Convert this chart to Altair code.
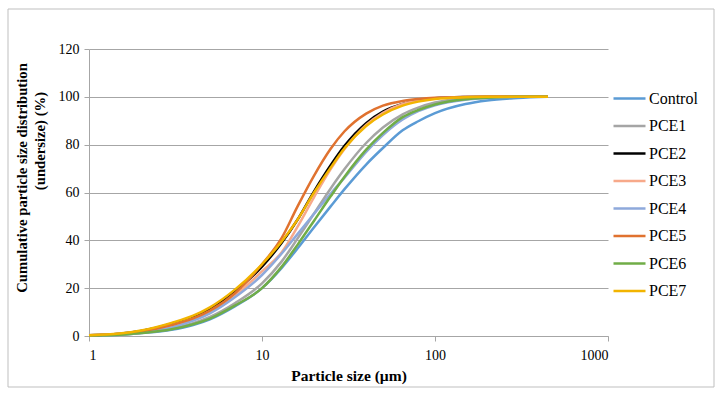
import altair as alt
import pandas as pd

# Particle sizes (µm) at which the cumulative curves are sampled
sizes = [1, 1.5, 2, 3, 4, 5, 7, 10, 13, 16, 20, 25, 30, 40, 50, 65, 80, 100, 150, 200, 300, 450]

# Cumulative undersize (%) per mix
control = [0.2, 0.5, 1.2, 2.6, 4.6, 7.0, 12.5, 20.0, 28.5, 36.5, 45.5, 54.3, 61.4, 71.7, 78.6, 86.0, 89.8, 93.2, 97.0, 98.5, 99.5, 100]
pce1 = [0.2, 0.6, 1.3, 3.1, 5.4, 8.0, 13.8, 22.0, 31.2, 40.6, 51.2, 61.8, 69.8, 80.7, 87.2, 92.7, 95.5, 97.6, 99.3, 99.7, 100, 100]
pce2 = [0.3, 0.9, 2.1, 5.1, 8.0, 11.3, 18.8, 29.0, 39.0, 48.5, 60.5, 71.5, 79.5, 89.0, 93.8, 97.0, 98.5, 99.4, 99.9, 100, 100, 100]
pce3 = [0.3, 0.9, 2.0, 4.5, 7.2, 10.0, 17.0, 27.0, 35.0, 45.5, 58.1, 69.9, 78.2, 88.2, 93.3, 97.0, 98.5, 99.4, 99.9, 100, 100, 100]
pce4 = [0.3, 0.8, 1.6, 3.6, 6.4, 9.5, 16.3, 25.5, 34.5, 42.5, 51.1, 59.6, 66.2, 77.0, 84.0, 90.5, 94.0, 96.5, 98.8, 99.5, 100, 100]
pce5 = [0.3, 0.8, 1.9, 4.6, 7.4, 10.6, 18.0, 30.0, 41.0, 54.0, 67.1, 78.4, 85.6, 93.0, 96.3, 98.3, 99.1, 99.6, 99.9, 100, 100, 100]
pce6 = [0.2, 0.5, 1.2, 2.8, 4.9, 7.3, 12.8, 20.0, 29.0, 38.0, 48.2, 58.5, 66.6, 77.9, 84.9, 91.5, 94.5, 96.8, 99.0, 99.6, 100, 100]
pce7 = [0.3, 1.0, 2.3, 5.5, 8.5, 12.0, 19.5, 30.0, 39.5, 48.5, 60.0, 70.5, 78.5, 87.8, 92.6, 96.3, 98.0, 99.1, 99.8, 100, 100, 100]

series = ["Control", "PCE1", "PCE2", "PCE3", "PCE4", "PCE5", "PCE6", "PCE7"]
colors = ["#5B9BD5", "#A5A5A5", "#000000", "#F7A98A", "#8EA9DB", "#E0722F", "#70AD47", "#F2B400"]
x_ticks = [1, 10, 100, 1000]
y_ticks = [0, 20, 40, 60, 80, 100, 120]

rows = []
for name, vals in zip(series, [control, pce1, pce2, pce3, pce4, pce5, pce6, pce7]):
    for s, v in zip(sizes, vals):
        rows.append({"size": s, "value": v, "series": name})
df = pd.DataFrame(rows)

FONT = "Times New Roman, Liberation Serif, serif"
GRID = "#A6A6A6"

lines = alt.Chart(df).mark_line(strokeWidth=2.5, interpolate="monotone").encode(
    x=alt.X(
        "size:Q",
        scale=alt.Scale(type="log", domain=[1, 1000]),
        axis=alt.Axis(
            values=x_ticks, format="d", grid=False, title="Particle size (µm)",
            tickSize=5, labelPadding=7, titlePadding=6, titleFontSize=15.5,
        ),
    ),
    y=alt.Y(
        "value:Q",
        scale=alt.Scale(domain=[0, 120]),
        axis=alt.Axis(values=y_ticks, grid=True, title=None, tickSize=5, labelPadding=5),
    ),
    color=alt.Color(
        "series:N",
        scale=alt.Scale(domain=series, range=colors),
        legend=alt.Legend(
            title=None, orient="none", legendX=523, legendY=32,
            symbolType="stroke", symbolSize=1024, symbolStrokeWidth=2.5,
            labelFont=FONT, labelFontSize=16, labelColor="black",
            labelOffset=2, rowPadding=1.5, padding=0,
        ),
    ),
    detail="series:N",
    order="size:Q",
)

# Outer frame around the whole figure
frame = alt.Chart(pd.DataFrame({"a": [0]})).mark_rect(
    fillOpacity=0, stroke="#BFBFBF", strokeWidth=1
).encode(x=alt.value(-81), x2=alt.value(625), y=alt.value(-40), y2=alt.value(338))

# Two-line vertical axis title
ytitle1 = alt.Chart(pd.DataFrame({"a": [0]})).mark_text(
    angle=270, font=FONT, fontSize=14.7, fontWeight="bold", color="black",
    align="center", baseline="middle",
).encode(x=alt.value(-66), y=alt.value(129), text=alt.value("Cumulative particle size distribution"))

ytitle2 = alt.Chart(pd.DataFrame({"a": [0]})).mark_text(
    angle=270, font=FONT, fontSize=14.7, fontWeight="bold", color="black",
    align="center", baseline="middle",
).encode(x=alt.value(-48), y=alt.value(92), text=alt.value("(undersize) (%)"))

chart = alt.layer(frame, lines, ytitle1, ytitle2).properties(
    width=519, height=287,
    autosize=alt.AutoSizeParams(type="none"),
    padding={"left": 89, "top": 49, "right": 116, "bottom": 59},
    background="white",
).configure(font=FONT).configure_view(stroke=None).configure_axis(
    labelFont=FONT, labelFontSize=14, labelColor="black",
    titleFont=FONT, titleFontSize=14, titleFontWeight="bold", titleColor="black",
    domainColor=GRID, tickColor=GRID, gridColor=GRID, gridWidth=1,
).configure_legend(labelFont=FONT, labelFontSize=16, labelColor="black")

chart.save("out.html", embed_options={"renderer": "svg", "actions": False})
